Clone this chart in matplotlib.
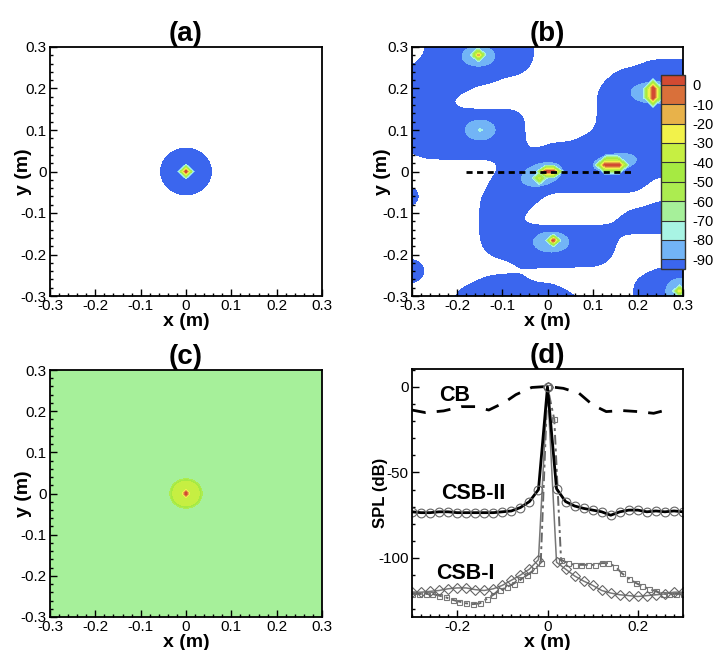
import numpy as np
import matplotlib
matplotlib.use('Agg')
import matplotlib.pyplot as plt
from matplotlib.ticker import MultipleLocator, FuncFormatter

plt.rcParams['font.family'] = ['Liberation Sans', 'DejaVu Sans']
plt.rcParams['axes.unicode_minus'] = False

# ---------------- data ----------------
levels = [-95, -90, -80, -70, -60, -50, -40, -30, -20, -10, 0, 5]
band_colors = ['#3b66ee', '#72b4f6', '#a8f4e4', '#a6f09a', '#acec50', '#a6ea42',
               '#c6ef42', '#f2f24a', '#e8b24a', '#d9703a', '#d24a32']
cbar_ticks = [0, -10, -20, -30, -40, -50, -60, -70, -80, -90]

# panel (b): sidelobe (blue) mask read on a 0.02 m grid, rows from y=0.3 down to y=-0.3
mask_b = [
    "..############.................",
    "..############.................",
    ".#############............#####",
    "#############..........########",
    "##########............#########",
    "#######..............##########",
    "#####................##########",
    "####.................##########",
    "#############........##########",
    "#############........##########",
    "#############........##########",
    "#############......############",
    "#############..################",
    ".###########.##################",
    "...........####################",
    "..........#####################",
    ".........##################....",
    "#........#################.....",
    "##......#######................",
    "#.......######.............####",
    "........#####...........#######",
    "........###............########",
    "........#######################",
    "........###############........",
    "........###############........",
    ".........##############........",
    "##..........##########.........",
    "##.........................####",
    "##......#####............######",
    "......###########........######",
    ".....##############......######",
]

# peaks of panel (b): x, y, peak level (dB), core half-sizes, core segment half-vector
b_peak_x = [-0.153, -0.149, 0.234, 0.143, 0.005, -0.018, 0.013, 0.292]
b_peak_y = [0.281, 0.100, 0.189, 0.016, 0.000, -0.016, -0.166, -0.288]
b_peak_lv = [-8, -72, 8, 8, 10, -32, 8, -22]
b_core_rx = [0.018, 0.005, 0.022, 0.024, 0.022, 0.017, 0.017, 0.015]
b_core_ry = [0.018, 0.005, 0.022, 0.022, 0.016, 0.016, 0.016, 0.015]
b_seg_x = [0.0, 0.0, 0.0, 0.014, 0.008, 0.0, 0.0, 0.0]
b_seg_y = [0.0, 0.0, 0.011, 0.0, 0.0, 0.0, 0.0, 0.0]
# light-blue halos of panel (b): centre, semi-axes, tilt (deg)
b_halo_x = [-0.153, -0.149, 0.240, 0.149, -0.013, 0.008, 0.292]
b_halo_y = [0.278, 0.100, 0.190, 0.022, -0.007, -0.170, -0.288]
b_halo_ax = [0.036, 0.033, 0.055, 0.048, 0.046, 0.039, 0.030]
b_halo_ay = [0.024, 0.024, 0.026, 0.020, 0.026, 0.024, 0.030]
b_halo_ang = [0, 0, 0, 10, 18, 0, 0]
b_line_x = [-0.18, 0.19]
b_line_y = [0.0, 0.0]

# panel (a): single source
a_peak = (0.0, 0.0, 10, 0.018)       # x, y, level, core half-size
a_disk_r = 0.056
# panel (c): single source on uniform floor
c_floor = -65
c_disk_lv = -35
c_disk_r = 0.034
c_peak = (0.0, 0.0, 10, 0.010)

# panel (d): SPL along the line y = 0
cb_x = [-0.30, -0.27, -0.23, -0.19, -0.16, -0.13, -0.095, -0.07, -0.035, 0.0,
        0.035, 0.07, 0.10, 0.13, 0.165, 0.20, 0.235, 0.27]
cb_y = [-13.5, -15, -14, -11.5, -11.5, -13.5, -9, -4.5, -0.3, 0.3,
        -0.8, -3.7, -10.5, -14.4, -13.8, -14.4, -15.4, -13]

csb2_x = [round(-0.30 + 0.02 * i, 2) for i in range(31)]
csb2_y = [-73, -73.5, -73.5, -73, -73, -73.5, -73.5, -73.5, -73.5, -73.5, -73,
          -72.5, -70.5, -67, -60, 0, -59.5, -67, -69.6, -71, -72, -73, -75,
          -73, -72, -72, -73, -72.5, -73, -72.5, -73]

dia_x = [round(-0.30 + 0.02 * i, 2) for i in range(31)]
dia_y = [-120, -120, -119.5, -119, -118, -117.5, -117.5, -118.5, -119, -118,
         -116, -113, -110, -106.5, -101, 0, -102.5, -106.5, -110.5, -113.5,
         -116, -119, -120.5, -121.5, -122, -122.5, -122, -121.5, -121, -120, -120]

sq_x = [round(-0.30 + 0.015 * i, 3) for i in range(41)]
sq_y = [-121, -121, -121, -121, -122, -123, -124.5, -125.5, -126.5, -127,
        -126.5, -124, -121.5, -119, -117, -115, -112.5, -110, -107, -103,
        0, -19, -101, -103, -104, -104, -104, -104, -103, -103, -105,
        -109, -112, -114.5, -116.5, -118, -119.5, -121, -121, -121, -121]

# ---------------- fields ----------------
g = np.linspace(-0.3, 0.3, 301)
X, Y = np.meshgrid(g, g)


def cone(px, py, lv, floor, rx, ry, sx=0.0, sy=0.0):
    dx = X - px
    dy = Y - py
    L2 = sx * sx + sy * sy
    if L2 > 0:
        t = np.clip((dx * sx + dy * sy) / L2, -1, 1)
    else:
        t = 0.0
    ex = dx - t * sx
    ey = dy - t * sy
    d = np.abs(ex) / rx + np.abs(ey) / ry
    return lv - (lv - floor) * d


def halo(px, py, ax_, ay_, ang, top=-81.0, edge=-90.0):
    a = np.deg2rad(ang)
    dx = X - px
    dy = Y - py
    u = (dx * np.cos(a) + dy * np.sin(a)) / ax_
    v = (-dx * np.sin(a) + dy * np.cos(a)) / ay_
    return top - (top - edge) * (u * u + v * v)


def smooth_mask(rows, sigma):
    m = np.array([[1.0 if ch == '#' else 0.0 for ch in r] for r in rows])[::-1]
    coarse = np.linspace(-0.3, 0.3, m.shape[0])
    tmp = np.array([np.interp(g, coarse, row) for row in m])
    fine = np.array([np.interp(g, coarse, tmp[:, i]) for i in range(len(g))]).T
    step = g[1] - g[0]
    s = sigma / step
    r = int(3 * s)
    k = np.exp(-0.5 * (np.arange(-r, r + 1) / s) ** 2)
    k /= k.sum()
    p = np.pad(fine, r, mode='edge')
    p = np.apply_along_axis(lambda v: np.convolve(v, k, mode='same'), 0, p)
    p = np.apply_along_axis(lambda v: np.convolve(v, k, mode='same'), 1, p)
    return p[r:-r, r:-r]


# (a)
Fa = np.maximum(halo(0, 0, a_disk_r, a_disk_r, 0, top=-91, edge=-95),
                cone(a_peak[0], a_peak[1], a_peak[2], -90, a_peak[3], a_peak[3]))
Fa = np.minimum(Fa, 4.9)

# (b)
Fb = -99 + 8 * smooth_mask(mask_b, 0.02)
for i in range(len(b_halo_x)):
    Fb = np.maximum(Fb, halo(b_halo_x[i], b_halo_y[i], b_halo_ax[i], b_halo_ay[i], b_halo_ang[i]))
for i in range(len(b_peak_x)):
    Fb = np.maximum(Fb, cone(b_peak_x[i], b_peak_y[i], b_peak_lv[i], -82,
                             b_core_rx[i], b_core_ry[i], b_seg_x[i], b_seg_y[i]))
Fb = np.minimum(Fb, 4.9)

# (c)
R = np.hypot(X, Y)
Fc = np.maximum(c_floor + (c_disk_lv - c_floor) * np.exp(-(R / c_disk_r) ** 12), c_floor)
Fc = np.maximum(Fc, cone(c_peak[0], c_peak[1], c_peak[2], c_disk_lv, c_peak[3], c_peak[3]))
Fc = np.minimum(Fc, 4.9)

# ---------------- figure ----------------
fig = plt.figure(figsize=(7.15, 6.5), dpi=100)
W, H = 715.0, 650.0


def add_ax(x0, y0, x1, y1):
    return fig.add_axes([x0 / W, 1 - y1 / H, (x1 - x0) / W, (y1 - y0) / H])


ax_a = add_ax(50, 47, 322, 296)
ax_b = add_ax(412, 47, 683, 296)
ax_c = add_ax(50, 370, 322, 617)
ax_d = add_ax(412, 369, 683, 617)
cax = add_ax(661, 75, 685, 269)

fmt = FuncFormatter(lambda v, p: f"{v:g}")


def style(ax):
    for s in ax.spines.values():
        s.set_linewidth(1.3)
    ax.tick_params(which='both', direction='in', top=False, right=False,
                   labelsize=11, width=1.0)
    ax.tick_params(axis='x', which='both', pad=2)
    ax.tick_params(axis='y', which='both', pad=2.5)
    ax.tick_params(which='major', length=5)
    ax.tick_params(which='minor', length=2.5)


cs = None
for ax, F, t in [(ax_a, Fa, '(a)'), (ax_b, Fb, '(b)'), (ax_c, Fc, '(c)')]:
    c = ax.contourf(X, Y, F, levels=levels, colors=band_colors)
    if t == '(b)':
        cs = c
    ax.set_xlim(-0.3, 0.3)
    ax.set_ylim(-0.3, 0.3)
    ax.xaxis.set_major_locator(MultipleLocator(0.1))
    ax.yaxis.set_major_locator(MultipleLocator(0.1))
    ax.xaxis.set_minor_locator(MultipleLocator(0.02))
    ax.yaxis.set_minor_locator(MultipleLocator(0.02))
    ax.xaxis.set_major_formatter(fmt)
    ax.yaxis.set_major_formatter(fmt)
    style(ax)
    ax.set_xlabel('x (m)', fontsize=14, fontweight='bold', labelpad=0)
    ax.set_ylabel('y (m)', fontsize=14, fontweight='bold')
    ax.yaxis.set_label_coords(-0.066 if ax is not ax_b else -0.077, 0.5)
    ax.set_title(t, fontsize=20, fontweight='bold', pad=4)

ax_b.plot(b_line_x, b_line_y, color='black', lw=2.0, linestyle=(0, (2.2, 1.6)))

cb = fig.colorbar(cs, cax=cax, spacing='proportional', ticks=cbar_ticks, drawedges=True)
cb.outline.set_linewidth(1.0)
cb.outline.set_edgecolor('#333333')
cb.dividers.set_color('#333333')
cb.dividers.set_linewidth(0.8)
cax.tick_params(length=0, labelsize=10.5, pad=5)
cax.set_yticklabels([f"{v:g}" for v in cbar_ticks])

# (d)
ax_d.plot(cb_x, cb_y, color='black', lw=2.0, linestyle=(0, (5, 4)))
ax_d.plot(sq_x, sq_y, color='#666666', lw=1.4, linestyle=(0, (5, 2, 1.5, 2)),
          marker='s', ms=3.6, mfc='none', mec='#777777', mew=0.8)
ax_d.plot(dia_x, dia_y, color='#777777', lw=1.1, linestyle='-',
          marker='D', ms=4.8, mfc='none', mec='#666666', mew=0.8)
ax_d.plot(csb2_x, csb2_y, color='black', lw=2.0, linestyle='-',
          marker='o', ms=6.3, mfc='none', mec='#666666', mew=0.8)
ax_d.set_xlim(-0.3, 0.3)
ax_d.set_ylim(-134.5, 10.5)
ax_d.xaxis.set_major_locator(MultipleLocator(0.2))
ax_d.xaxis.set_minor_locator(MultipleLocator(0.02))
ax_d.yaxis.set_major_locator(MultipleLocator(50))
ax_d.yaxis.set_minor_locator(MultipleLocator(10))
ax_d.xaxis.set_major_formatter(fmt)
ax_d.yaxis.set_major_formatter(fmt)
style(ax_d)
ax_d.set_xlabel('x (m)', fontsize=14, fontweight='bold', labelpad=0)
ax_d.set_ylabel('SPL (dB)', fontsize=12, fontweight='bold')
ax_d.yaxis.set_label_coords(-0.089, 0.5)
ax_d.set_title('(d)', fontsize=20, fontweight='bold', pad=4)
ax_d.text(-0.205, -5, 'CB', ha='center', va='center', fontsize=15.5, fontweight='bold')
ax_d.text(-0.165, -62.5, 'CSB-II', ha='center', va='center', fontsize=15.5, fontweight='bold')
ax_d.text(-0.181, -109, 'CSB-I', ha='center', va='center', fontsize=15.5, fontweight='bold')

fig.savefig('out.png', dpi=100)
